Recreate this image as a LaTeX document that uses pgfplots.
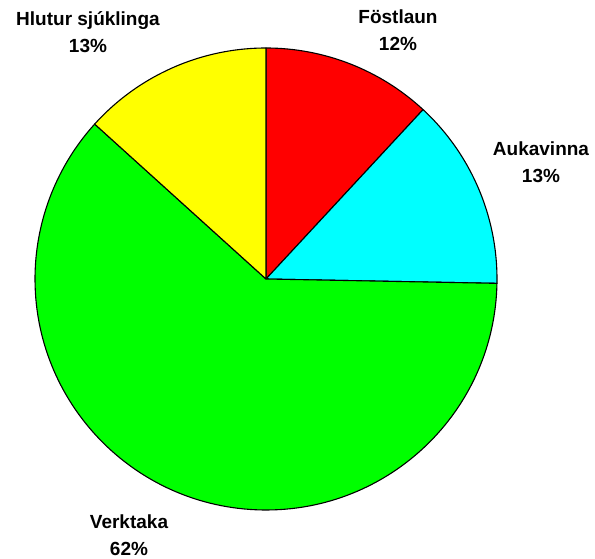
\documentclass[border=0pt]{standalone}
\usepackage{pgfplots}
\pgfplotsset{compat=1.18}
\usepackage{fontspec}
\setmainfont{Liberation Sans}
% shares (percent), clockwise from 12 o'clock
\def\vA{11.9}% Föstlaun
\def\vB{13.4}% Aukavinna
\def\vC{61.4}% Verktaka
\def\vD{13.3}% Hlutur sjúklinga
\begin{document}
\begin{tikzpicture}
\begin{axis}[
  scale only axis, width=595bp, height=559bp,
  xmin=0, xmax=595, ymin=0, ymax=559,
  hide axis, clip=false]
\path (axis cs:0,0) rectangle (axis cs:595,559);
\pgfmathsetmacro{\aA}{90}
\pgfmathsetmacro{\aB}{\aA-\vA*3.6}
\pgfmathsetmacro{\aC}{\aB-\vB*3.6}
\pgfmathsetmacro{\aD}{\aC-\vC*3.6}
\pgfmathsetmacro{\aE}{\aD-\vD*3.6}
\filldraw[fill={rgb,255:red,255;green,0;blue,0}, draw=black, line width=1.1bp, line join=round]
  (axis cs:266,280) -- ++(\aA:231bp) arc[start angle=\aA, end angle=\aB, radius=231bp] -- cycle;
\filldraw[fill={rgb,255:red,0;green,255;blue,255}, draw=black, line width=1.1bp, line join=round]
  (axis cs:266,280) -- ++(\aB:231bp) arc[start angle=\aB, end angle=\aC, radius=231bp] -- cycle;
\filldraw[fill={rgb,255:red,0;green,255;blue,0}, draw=black, line width=1.1bp, line join=round]
  (axis cs:266,280) -- ++(\aC:231bp) arc[start angle=\aC, end angle=\aD, radius=231bp] -- cycle;
\filldraw[fill={rgb,255:red,255;green,255;blue,0}, draw=black, line width=1.1bp, line join=round]
  (axis cs:266,280) -- ++(\aD:231bp) arc[start angle=\aD, end angle=\aE, radius=231bp] -- cycle;
\tikzset{lbl/.style={align=center, font=\fontsize{19bp}{27bp}\selectfont\bfseries, inner sep=0pt}}
\node[lbl] at (axis cs:398,529) {Föstlaun\\12\%};
\node[lbl] at (axis cs:541,397) {Aukavinna\\13\%};
\node[lbl] at (axis cs:129,24) {Verktaka\\62\%};
\node[lbl] at (axis cs:88,527) {Hlutur sjúklinga\\13\%};
\end{axis}
\end{tikzpicture}
\end{document}
